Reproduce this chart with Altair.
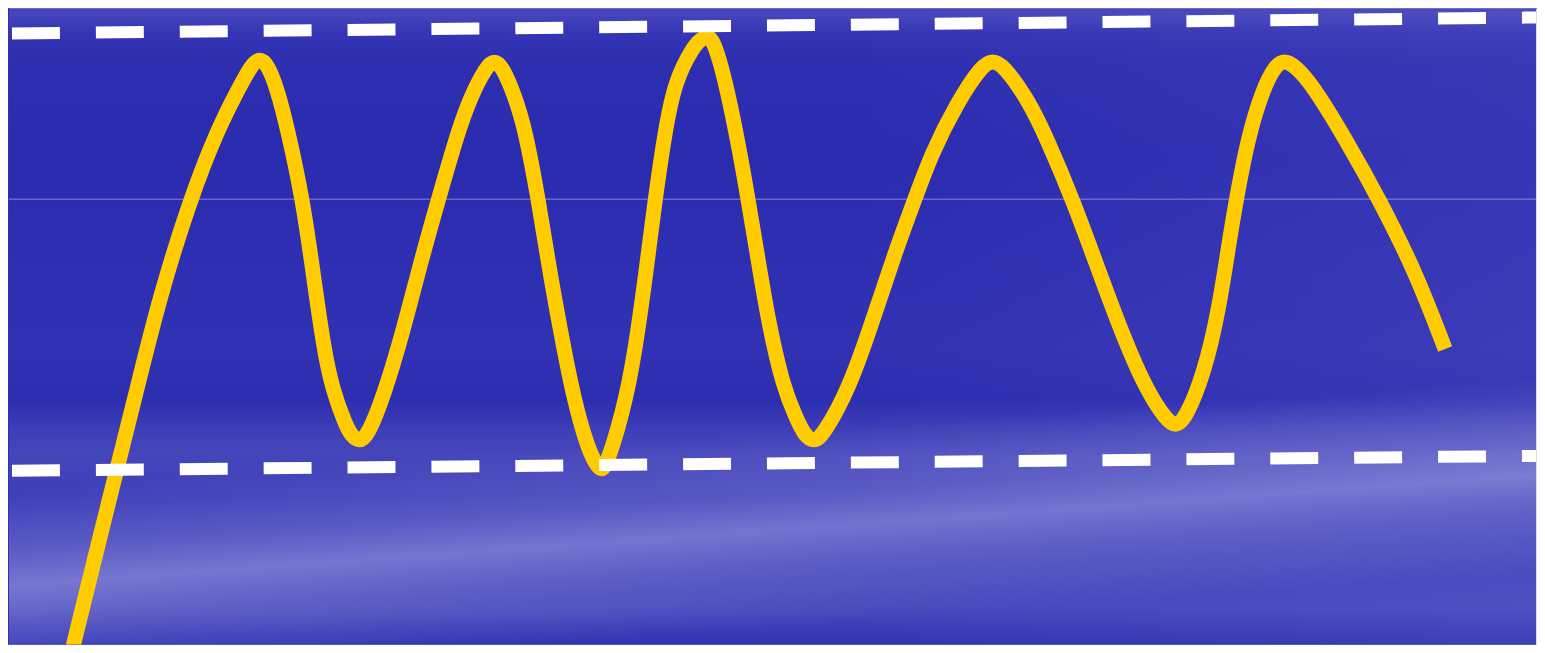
import altair as alt
import pandas as pd

# ---- data (in reference pixel units) ----
wave_x = [70, 72, 115, 136, 158, 189, 217, 237, 251, 259, 267,
          277, 287, 302, 312, 323, 332, 345, 351, 359, 367,
          383, 403, 420, 438, 458, 470, 486, 494, 502,
          515, 525, 538, 548, 560, 573, 587, 596, 601, 607,
          627, 638, 647, 655, 665, 675, 694, 700, 707, 714,
          727, 740, 748, 757, 768, 783, 797, 805, 814, 823,
          850, 873, 895, 915, 932, 957, 982, 993, 1004,
          1030, 1047, 1073, 1100, 1125, 1147, 1166, 1176, 1186,
          1205, 1220, 1230, 1237, 1248, 1263, 1276, 1285, 1295,
          1313, 1347, 1380, 1417, 1446]
wave_y = [656, 647, 473, 390, 300, 200, 129, 90, 64, 58, 64,
          90, 129, 199, 269, 348, 390, 425, 436, 442, 436,
          397, 330, 263, 199, 130, 97, 66, 60, 66,
          97, 130, 199, 263, 330, 397, 447, 465, 471, 465,
          397, 330, 263, 199, 130, 80, 45, 40, 35, 40,
          87, 153, 199, 253, 320, 387, 420, 436, 442, 436,
          387, 320, 253, 199, 153, 103, 65, 60, 65,
          102, 138, 199, 273, 340, 390, 419, 427, 419,
          373, 307, 240, 199, 140, 90, 65, 60, 65,
          84, 140, 199, 273, 349]

band_name = ["upper", "upper", "lower", "lower"]
band_x = [11, 1545, 11, 1545]
band_y = [33, 17, 471, 456]

mid_y = [199]

W, H = 1529, 637
X_DOM = [8, 8 + W]


def flip(v):
    return 653 - v


wave = pd.DataFrame({"x": wave_x, "v": [flip(v) for v in wave_y]})
bands = pd.DataFrame({"band": band_name, "x": band_x, "v": [flip(v) for v in band_y]})
mid = pd.DataFrame({"v": [flip(v) for v in mid_y]})

xs = alt.Scale(domain=X_DOM, nice=False, zero=False)
ys = alt.Scale(domain=[8, 8 + H], nice=False, zero=False)


def off(yref):
    return round((yref - 8) / H, 4)


base_grad = alt.LinearGradient(
    gradient="linear", x1=0, x2=0, y1=0, y2=1,
    stops=[
        alt.GradientStop(color="#4242bb", offset=off(8)),
        alt.GradientStop(color="#4545bd", offset=off(14)),
        alt.GradientStop(color="#3535b5", offset=off(32)),
        alt.GradientStop(color="#2e2eb1", offset=off(60)),
        alt.GradientStop(color="#2b2bb0", offset=off(160)),
        alt.GradientStop(color="#2e2eb2", offset=off(250)),
        alt.GradientStop(color="#3131b3", offset=off(350)),
        alt.GradientStop(color="#2d2db1", offset=off(400)),
        alt.GradientStop(color="#3e3eb8", offset=off(430)),
        alt.GradientStop(color="#4646bb", offset=off(455)),
        alt.GradientStop(color="#3c3cb8", offset=off(500)),
        alt.GradientStop(color="#4242ba", offset=off(570)),
        alt.GradientStop(color="#4646bc", offset=off(610)),
        alt.GradientStop(color="#3333b3", offset=off(645)),
    ],
)

# diagonal soft cloud band (lower-left to middle-right)
cloud_grad = alt.LinearGradient(
    gradient="linear", x1=0.304, y1=0.70, x2=0.356, y2=1.0,
    stops=[
        alt.GradientStop(color="rgba(190,190,240,0)", offset=0.0),
        alt.GradientStop(color="rgba(190,190,240,0.22)", offset=0.33),
        alt.GradientStop(color="rgba(190,190,240,0.42)", offset=0.5),
        alt.GradientStop(color="rgba(190,190,240,0.22)", offset=0.67),
        alt.GradientStop(color="rgba(190,190,240,0)", offset=1.0),
    ],
)

# right side slightly lighter
side_grad = alt.LinearGradient(
    gradient="linear", x1=0, y1=0, x2=1, y2=0,
    stops=[
        alt.GradientStop(color="rgba(200,200,255,0)", offset=0.0),
        alt.GradientStop(color="rgba(200,200,255,0)", offset=0.55),
        alt.GradientStop(color="rgba(200,200,255,0.07)", offset=1.0),
    ],
)

one = pd.DataFrame({"k": [0]})


def backdrop(fill):
    return alt.Chart(one).mark_rect(color=fill).encode(
        x=alt.value(0), x2=alt.value(W), y=alt.value(0), y2=alt.value(H)
    )


mid_rule = alt.Chart(mid).mark_rule(color="#9a9ae6", strokeWidth=1, opacity=0.8).encode(
    y=alt.Y("v:Q", scale=ys, axis=None),
    x=alt.value(0), x2=alt.value(W),
)

wave_line = alt.Chart(wave).mark_line(
    color="#ffcc00", strokeWidth=15, interpolate="basis", strokeCap="butt",
    strokeJoin="round", clip=True,
).encode(
    x=alt.X("x:Q", scale=xs, axis=None),
    y=alt.Y("v:Q", scale=ys, axis=None),
    order=alt.Order("x:Q"),
)

band_lines = alt.Chart(bands).mark_line(
    color="#ffffff", strokeWidth=12, strokeDash=[48, 36], strokeCap="butt", clip=True,
).encode(
    x=alt.X("x:Q", scale=xs, axis=None),
    y=alt.Y("v:Q", scale=ys, axis=None),
    detail="band:N",
)

chart = alt.layer(
    backdrop(base_grad), backdrop(cloud_grad), backdrop(side_grad),
    mid_rule, wave_line, band_lines,
).properties(
    width=W, height=H, padding=0,
).configure_view(stroke=None).configure(background="#2e2eb2")

chart.save("out.html", embed_options={"renderer": "svg", "actions": False})
